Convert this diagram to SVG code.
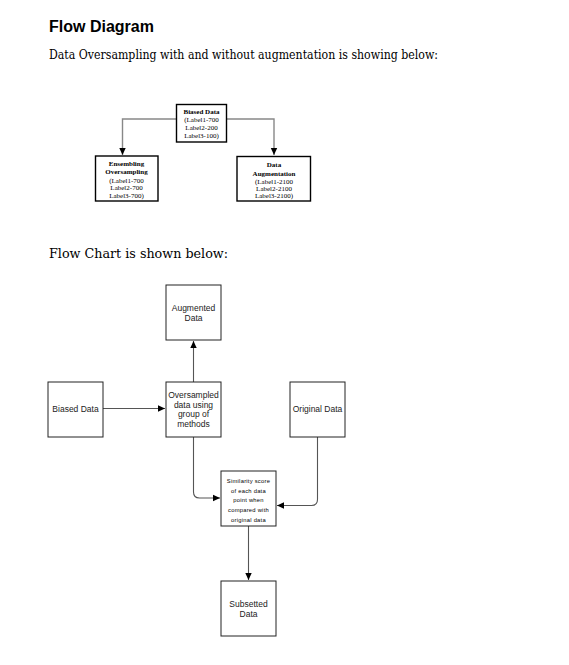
<svg xmlns="http://www.w3.org/2000/svg" width="569" height="665" viewBox="0 0 569 665">
<style>
.bg{fill:#fff}
.box{fill:#fff;stroke:#000;stroke-width:1.4}
.fbox{fill:#fff;stroke:#222;stroke-width:1}
.h1{font-family:"Liberation Sans",Arial,sans-serif;font-weight:bold;font-size:16px;fill:#000}
.p{font-family:"DejaVu Serif","Liberation Serif",serif;font-size:12px;fill:#000}
.t{font-family:"Liberation Serif","Times New Roman",serif;font-size:7px;fill:#000;text-anchor:middle}
.tb{font-weight:bold}
.f{font-family:"Liberation Sans",Arial,sans-serif;font-size:8.5px;fill:#222;text-anchor:middle}
.s{font-family:"Liberation Sans",Arial,sans-serif;font-size:5.8px;fill:#000;text-anchor:middle;letter-spacing:0.25px}
.c1{fill:none;stroke:#888;stroke-width:1.4}
.c2{fill:none;stroke:#555;stroke-width:1.1}
</style>
<defs>
<marker id="ah" markerWidth="8" markerHeight="8" refX="7" refY="4" orient="auto" markerUnits="userSpaceOnUse">
<path d="M0,0.8 L7,4 L0,7.2 Z" fill="#000"/>
</marker>
</defs>
<rect class="bg" x="0" y="0" width="569" height="665"/>
<text class="h1" x="49" y="32">Flow Diagram</text>
<text class="p" x="49" y="59" textLength="389" lengthAdjust="spacingAndGlyphs">Data Oversampling with and without augmentation is showing below:</text>
<text class="p" x="49" y="258" textLength="179" lengthAdjust="spacingAndGlyphs">Flow Chart is shown below:</text>

<g id="connectors">
<path class="c1" d="M176,119 H122.5 V155" marker-end="url(#ah)"/>
<path class="c1" d="M227,119 H274 V155" marker-end="url(#ah)"/>
<path class="c2" d="M103,408.5 H165" marker-end="url(#ah)"/>
<path class="c2" d="M193.5,382 V341" marker-end="url(#ah)"/>
<path class="c2" d="M193.5,437 V492 Q193.5,498 199.5,498 H220" marker-end="url(#ah)"/>
<path class="c2" d="M317.5,437 V499.5 Q317.5,505.5 311.5,505.5 H277" marker-end="url(#ah)"/>
<path class="c2" d="M248.5,526 V580" marker-end="url(#ah)"/>
</g>

<g id="biased-top">
<rect class="box" x="176.5" y="104.5" width="50" height="37.5"/>
<text class="t tb" x="201.5" y="114">Biased Data</text>
<text class="t" x="201.5" y="121.5">(Label1-700</text>
<text class="t" x="201.5" y="129.5">Label2-200</text>
<text class="t" x="201.5" y="137.5">Label3-100)</text>
</g>
<g id="ensembling">
<rect class="box" x="95.5" y="156" width="62.5" height="45"/>
<text class="t tb" x="126.5" y="166">Ensembling</text>
<text class="t tb" x="126.5" y="174">Oversampling</text>
<text class="t" x="126.5" y="182.5">(Label1-700</text>
<text class="t" x="126.5" y="190">Label2-700</text>
<text class="t" x="126.5" y="197.5">Label3-700)</text>
</g>
<g id="augmentation">
<rect class="box" x="237" y="156.5" width="73.5" height="44.5"/>
<text class="t tb" x="274" y="167">Data</text>
<text class="t tb" x="274" y="176">Augmentation</text>
<text class="t" x="274" y="184">(Label1-2100</text>
<text class="t" x="274" y="191">Label2-2100</text>
<text class="t" x="274" y="198">Label3-2100)</text>
</g>

<g id="augmented-data">
<rect class="fbox" x="166" y="285" width="55" height="55"/>
<text class="f" x="193.5" y="311">Augmented</text>
<text class="f" x="193.5" y="321">Data</text>
</g>
<g id="biased-data">
<rect class="fbox" x="48" y="382" width="55" height="55"/>
<text class="f" x="75.5" y="412">Biased Data</text>
</g>
<g id="oversampled">
<rect class="fbox" x="166" y="382" width="55" height="55"/>
<text class="f" x="193.5" y="398">Oversampled</text>
<text class="f" x="193.5" y="407.5">data using</text>
<text class="f" x="193.5" y="417">group of</text>
<text class="f" x="193.5" y="426.5">methods</text>
</g>
<g id="original-data">
<rect class="fbox" x="290" y="382" width="55" height="55"/>
<text class="f" x="317.5" y="412">Original Data</text>
</g>
<g id="similarity">
<rect class="fbox" x="221" y="471" width="55" height="55"/>
<text class="s" x="248.5" y="483">Similarity score</text>
<text class="s" x="248.5" y="492.5">of each data</text>
<text class="s" x="248.5" y="501.5">point when</text>
<text class="s" x="248.5" y="511.5">compared with</text>
<text class="s" x="248.5" y="521.5">original data</text>
</g>
<g id="subsetted">
<rect class="fbox" x="221" y="581" width="55" height="55"/>
<text class="f" x="248.5" y="607">Subsetted</text>
<text class="f" x="248.5" y="617">Data</text>
</g>
</svg>
